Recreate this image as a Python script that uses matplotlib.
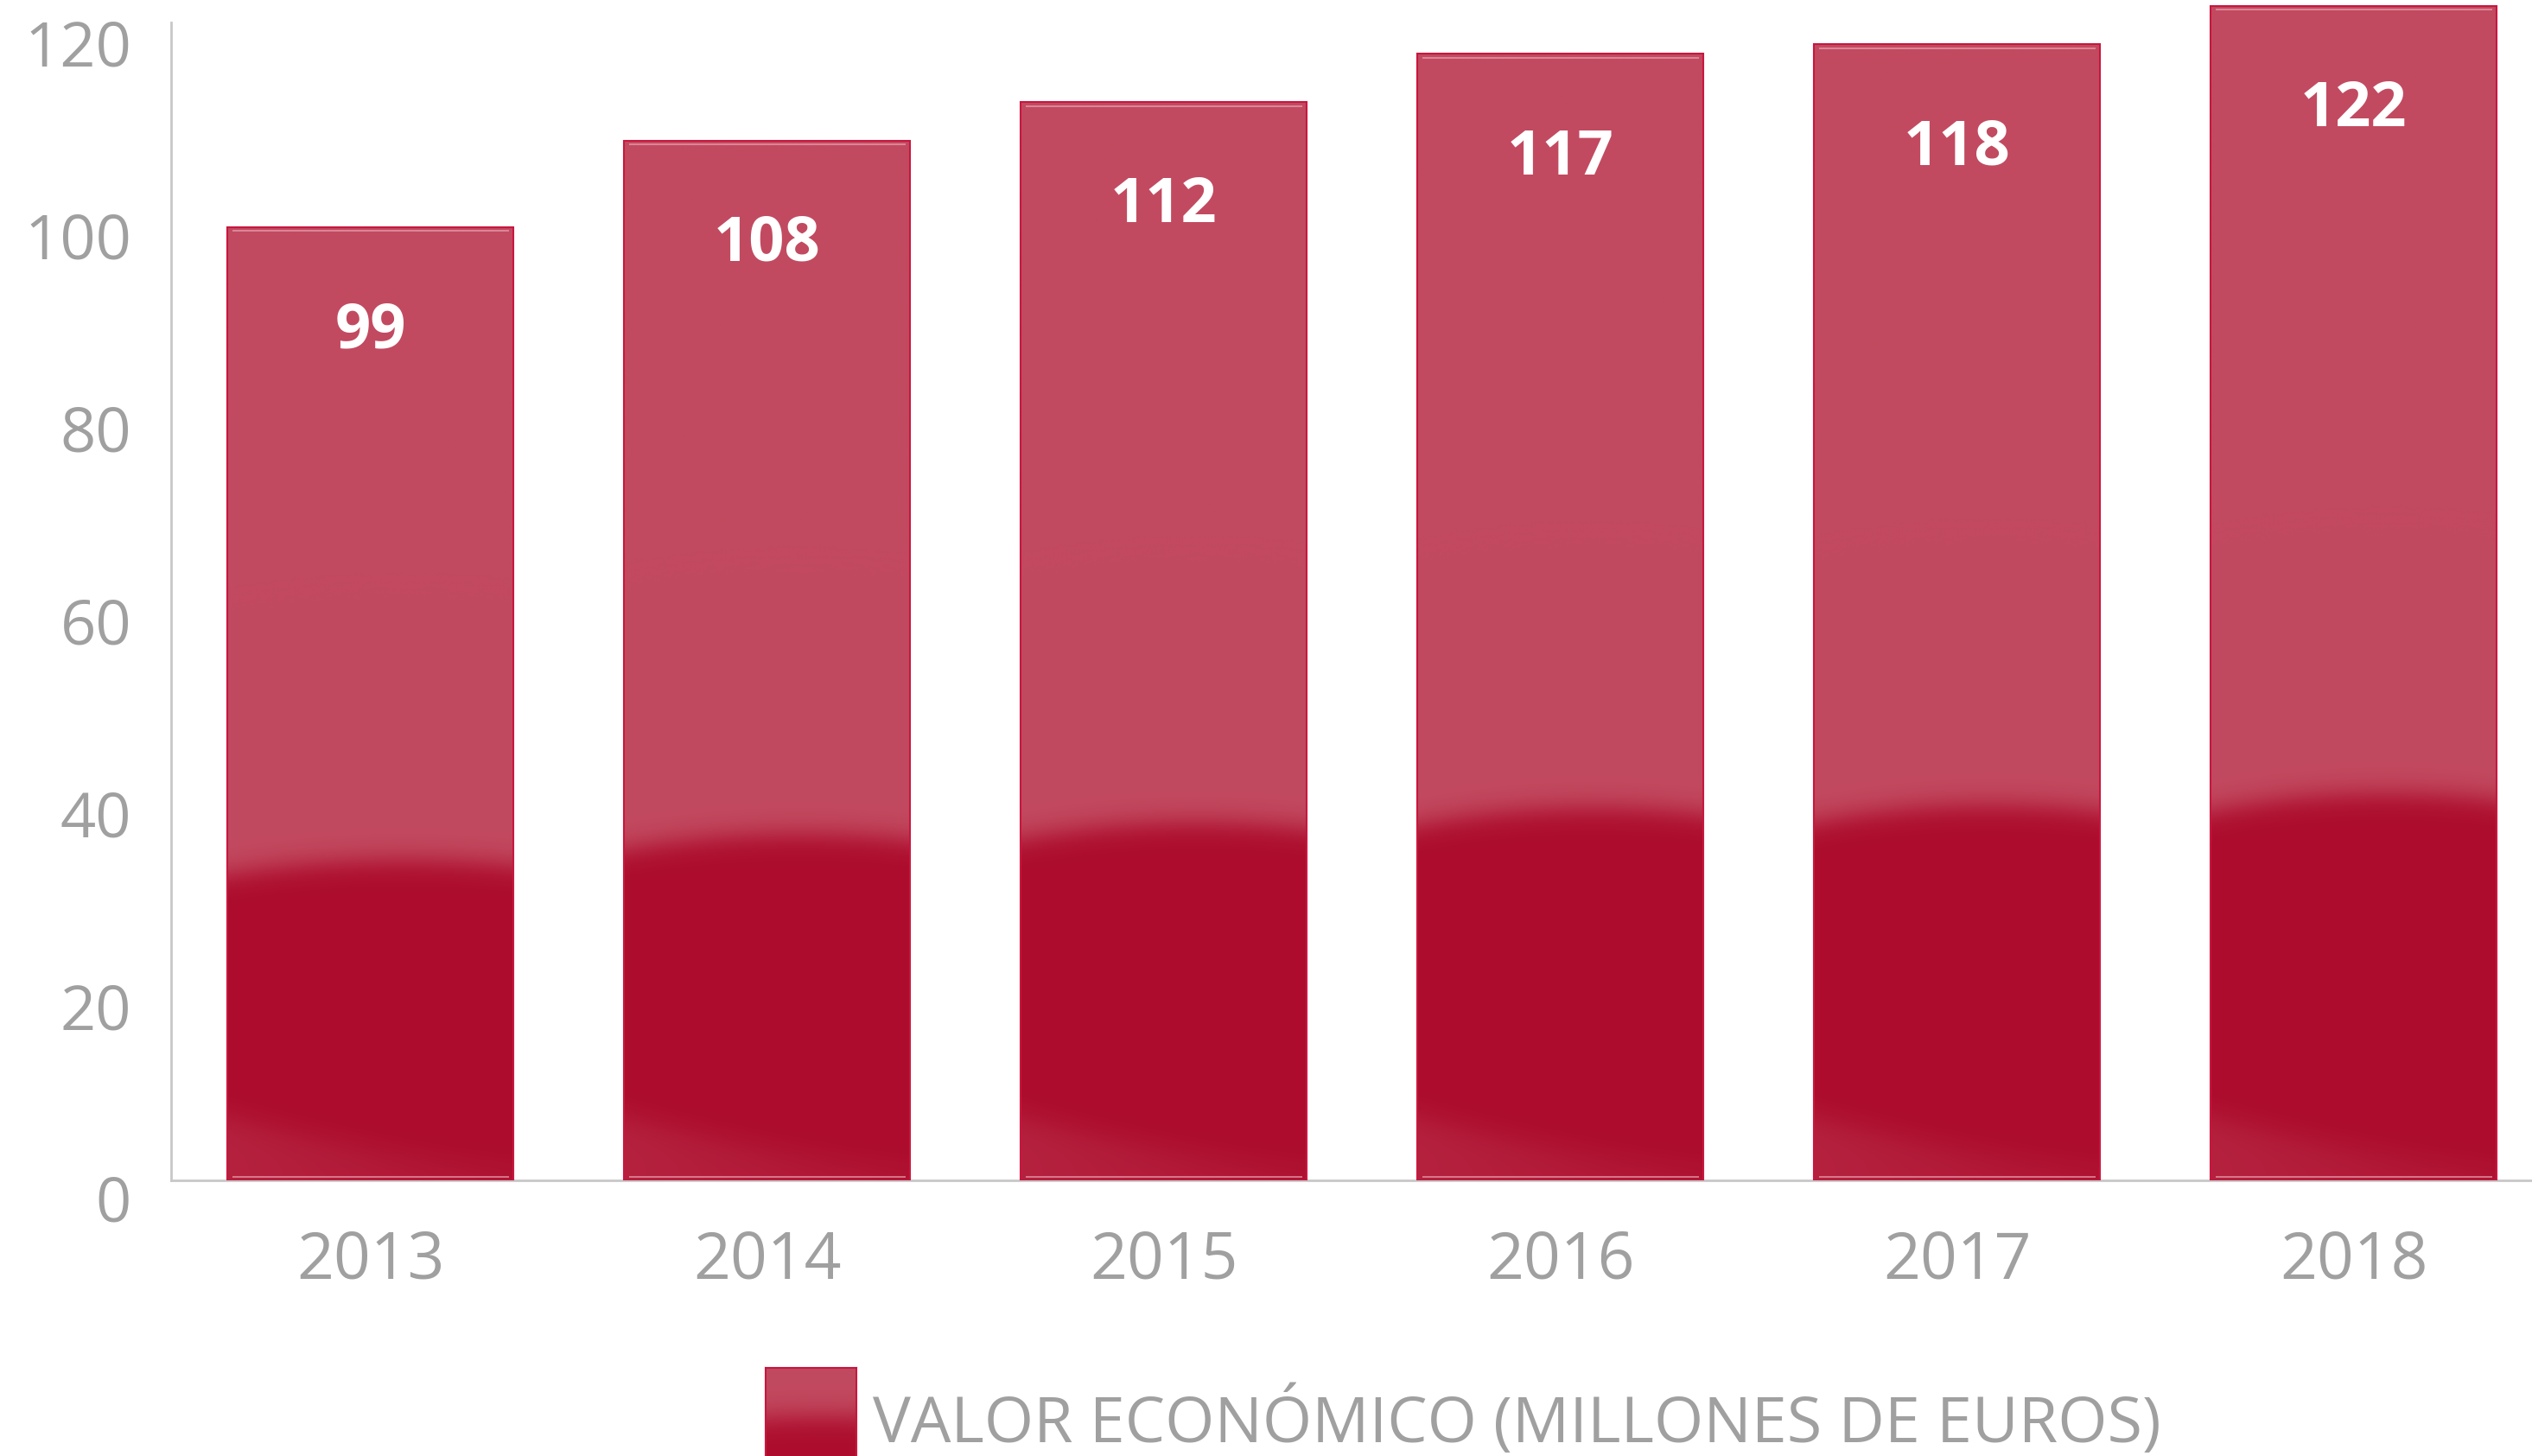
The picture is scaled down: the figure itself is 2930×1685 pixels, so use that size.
import numpy as np
import matplotlib.pyplot as plt
from matplotlib.transforms import blended_transform_factory

plt.rcParams['font.family'] = ['Open Sans', 'DejaVu Sans']

# data
years = ['2013', '2014', '2015', '2016', '2017', '2018']
values = [99, 108, 112, 117, 118, 122]
yticks = [0, 20, 40, 60, 80, 100, 120]
legend_label = 'VALOR ECONÓMICO (MILLONES DE EUROS)'

light = np.array([194, 74, 96]) / 255
dark = np.array([173, 12, 44]) / 255
gray = '#a0a0a0'


def sigmoid(z):
    return 1 / (1 + np.exp(-z))


def bar_gradient(h, peak, glow=True, nx=120, ny=400):
    # light top, dark dome-shaped bottom part, soft glow at bottom left
    u = np.linspace(0, 1, nx)
    y = np.linspace(0, h, ny)
    U, Y = np.meshgrid(u, y)
    yb = peak - 0.015 * h * ((U - 0.62) / 0.62) ** 2
    t = sigmoid((yb - Y) / 0.8)[..., None]
    img = light * (1 - t) + dark * t
    if glow:
        gb = 5.0 * (1 - U) ** 1.5 + 1.5
        g = (sigmoid((gb - Y) / 0.9) * 0.35 * (1 - 0.6 * U))[..., None]
        img = img * (1 - g) + light * g
    return img


fig = plt.figure(figsize=(29.3, 16.85), dpi=100)
ax = fig.add_axes([198 / 2930, 319 / 1685, 2732 / 2930, 1366 / 1685])

x = np.arange(len(years))
w = 0.721

for xi, v in zip(x, values):
    ax.imshow(bar_gradient(v, 0.3 * v + 3.5), extent=(xi - w / 2, xi + w / 2, 0, v),
              origin='lower', aspect='auto', interpolation='bilinear', zorder=2)
    ax.hlines([v - 0.4, 0.4], xi - w / 2 + 0.012, xi + w / 2 - 0.012,
              color='#e8a3b2', lw=1.2, alpha=0.8, zorder=3)

ax.bar(x, values, width=w, fill=False, edgecolor='#c8173f', linewidth=1.5, zorder=4)

for xi, v in zip(x, values):
    ax.text(xi, v - 12.5, str(v), ha='center', va='baseline', color='white',
            fontsize=52, fontweight='bold', zorder=5)

ax.set_xlim(-0.503, 5.449)
ax.set_ylim(0, 122.6)

for s in ['top', 'right']:
    ax.spines[s].set_visible(False)
for s in ['left', 'bottom']:
    ax.spines[s].set_color('#c8c8c8')
    ax.spines[s].set_linewidth(2)
ax.spines['left'].set_bounds(0, 120.3)
ax.set_xticks([])
ax.set_yticks([])

trans = blended_transform_factory(ax.transAxes, ax.transData)
for t in yticks:
    ax.text(-0.0168, t - 4.3, str(t), transform=trans, ha='right', va='baseline',
            color=gray, fontsize=52)

for xi, yr in zip(x, years):
    ax.text(xi, -10.2, yr, ha='center', va='baseline', color=gray, fontsize=54)

# legend
lax = fig.add_axes([886 / 2930, -15 / 1685, 105 / 2930, 117 / 1685])
lax.imshow(bar_gradient(10.5, 5.4, glow=False), extent=(0, 1, 0, 10.5),
           origin='lower', aspect='auto', interpolation='bilinear')
lax.set_xlim(0, 1)
lax.set_ylim(0, 10.5)
for s in lax.spines.values():
    s.set_color('#c8173f')
    s.set_linewidth(1.5)
lax.set_xticks([])
lax.set_yticks([])

fig.text(1010 / 2930, 16 / 1685, legend_label, ha='left', va='baseline',
         color=gray, fontsize=53)

fig.savefig('out.png', dpi=100)
